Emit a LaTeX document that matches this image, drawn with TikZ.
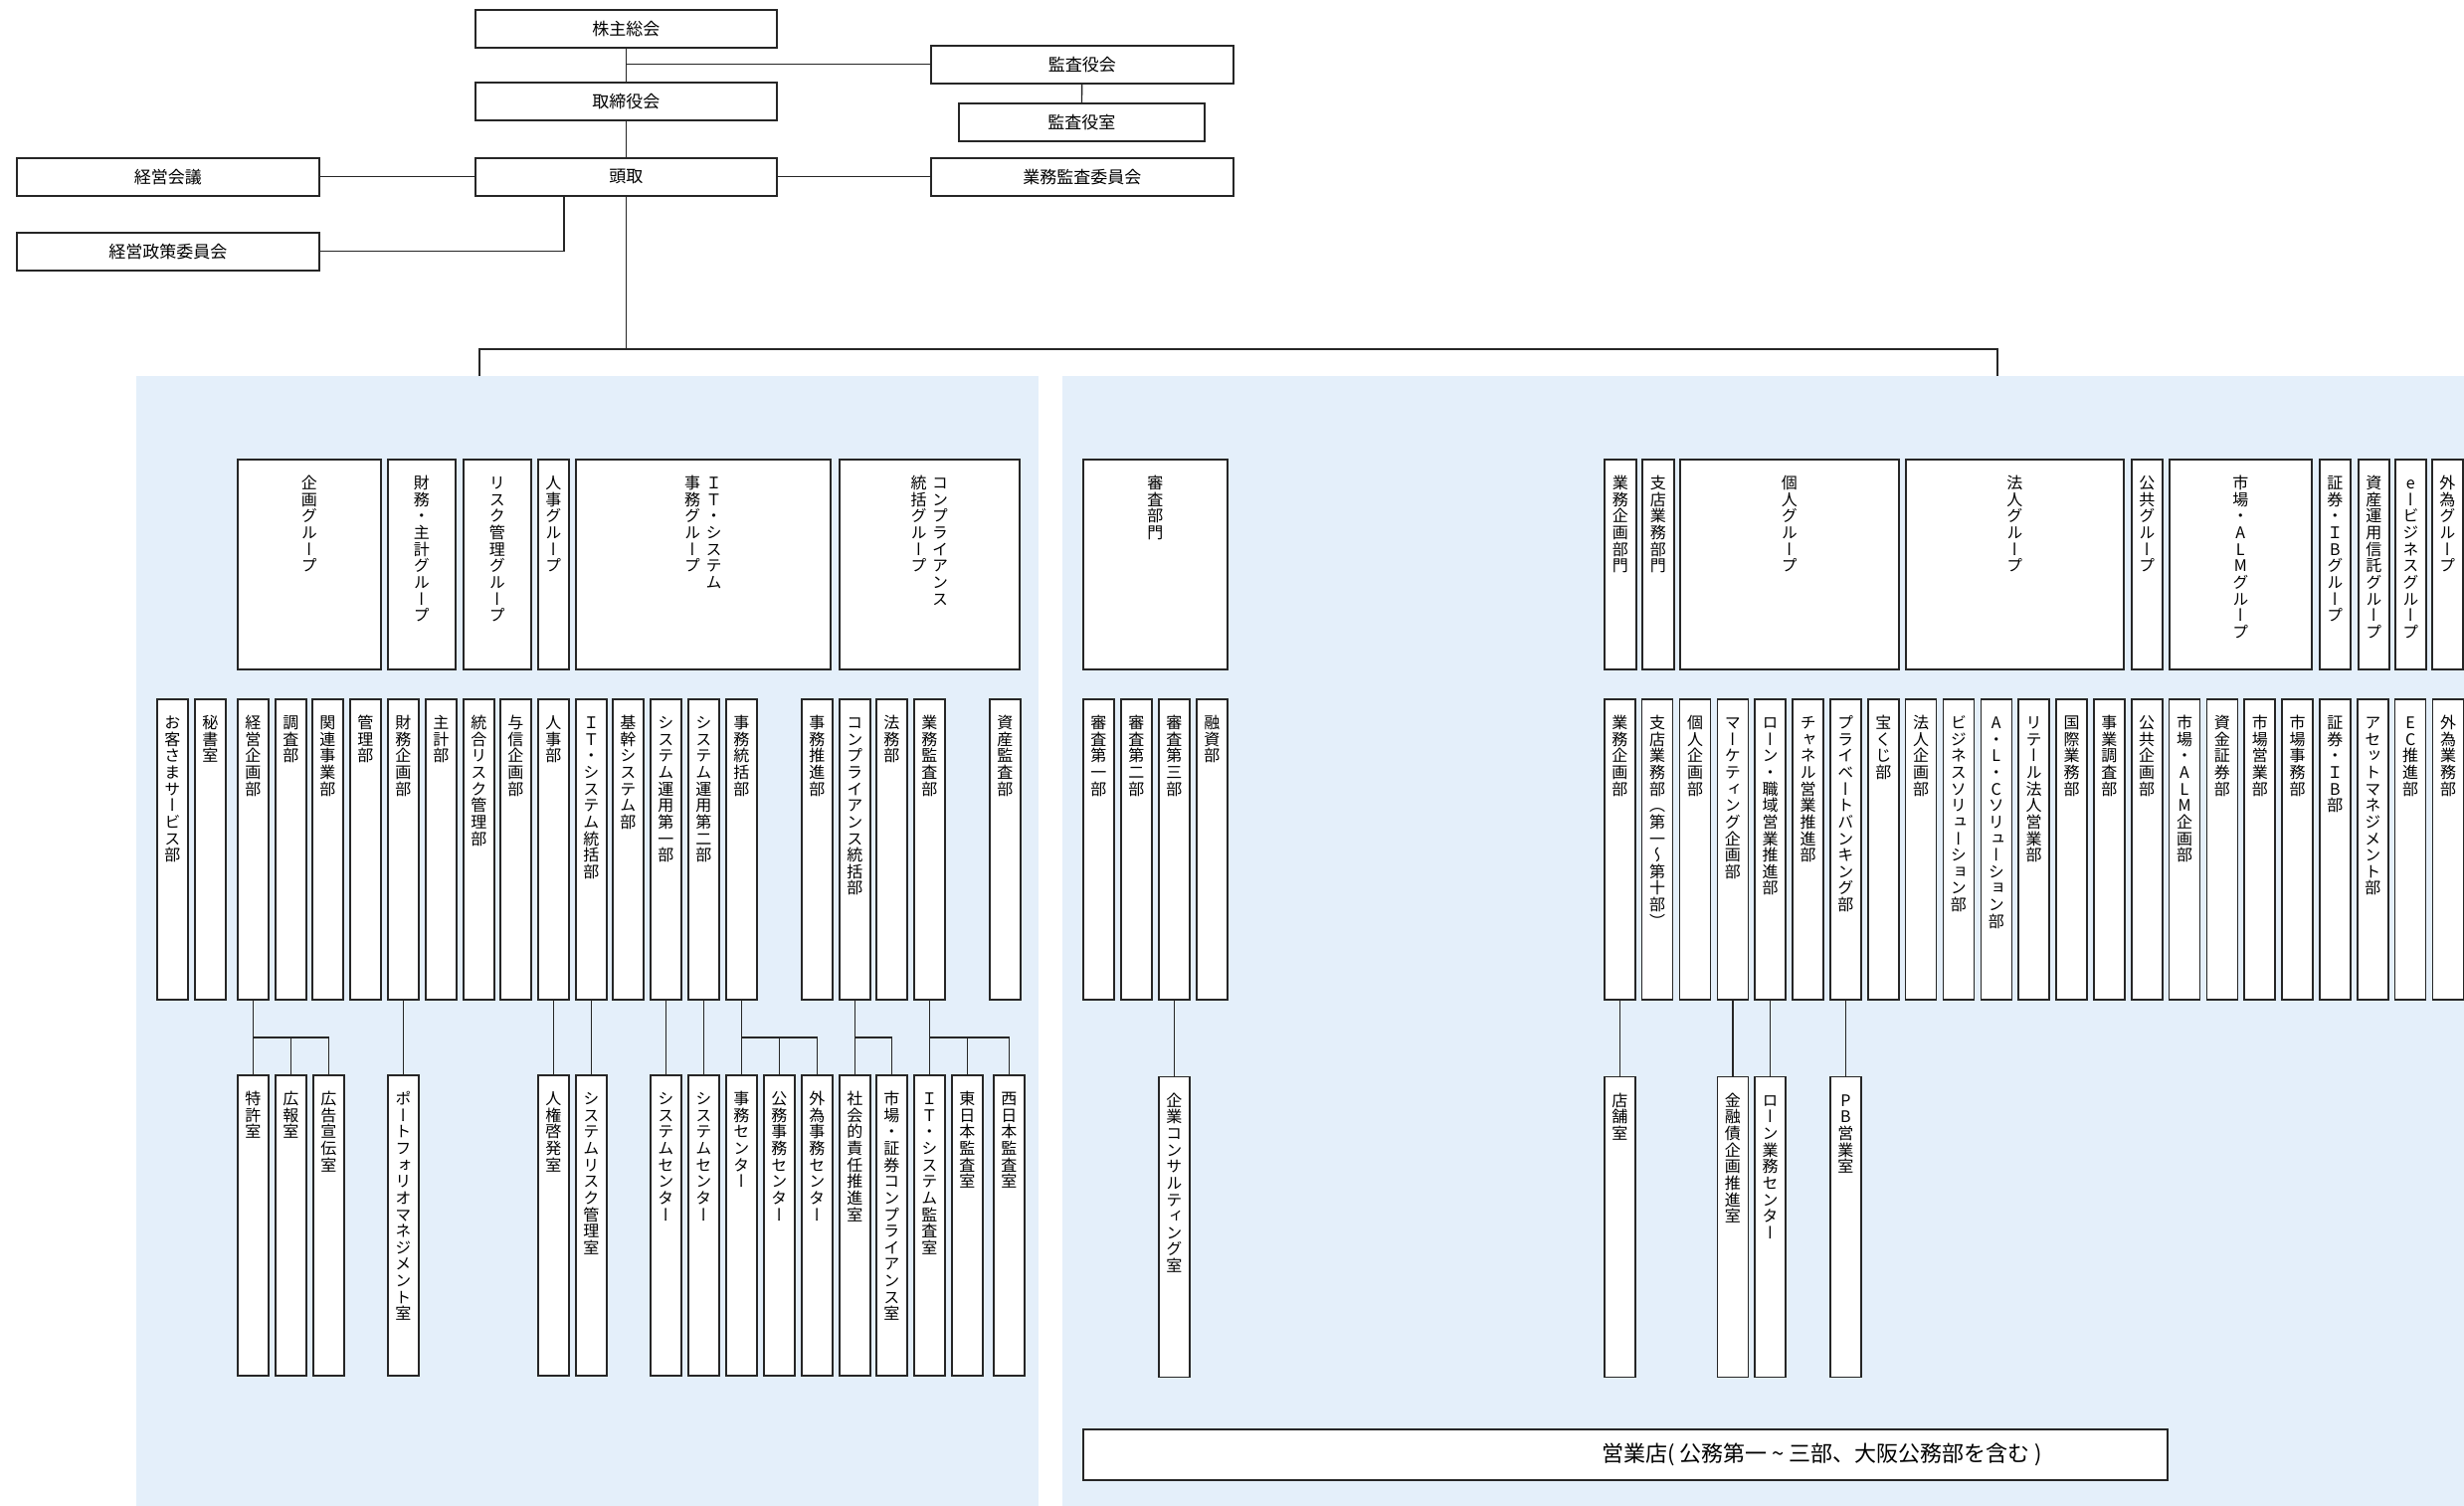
\documentclass[tikz,border=0pt]{standalone}
\usepackage{fontspec}
\newfontfamily\jp{Noto Sans CJK JP}
\newfontfamily\jpv[RawFeature=+vert]{Noto Sans CJK JP}
\definecolor{panelblue}{RGB}{228,239,250}

% vertical text: one character per line
\newcommand\vtend{}
\def\vtloop#1{\ifx#1\vtend\else\hbox to 1em{\vrule height .86em depth .18em width 0pt\hss#1\hss}\expandafter\vtloop\fi}
\newcommand\vt[1]{\vtop{\offinterlineskip\vtloop#1\vtend}}
% box body of fixed height, text at the top
\newcommand\vbx[2]{\vbox to #1{\vskip 8pt\hbox{#2}\vss}}

\begin{document}
\begin{tikzpicture}
[
    x=0.5pt, y=-0.5pt,
    topbox/.style={draw=black!85, line width=0.8pt, fill=white, anchor=north west, inner sep=0pt,
      minimum width=151.5pt, minimum height=19pt, font=\jp\fontsize{8.5}{10}\selectfont},
    grp/.style={draw=black!85, line width=0.8pt, fill=white, anchor=north west, inner sep=0pt,
      minimum width=15.5pt, font=\jpv\fontsize{8}{10}\selectfont},
    dept/.style={grp},
    link/.style={draw=black!85, line width=0.7pt}
  ]

  \useasboundingbox[fill=white] (0,0) rectangle (2477,1514);
  \fill[panelblue] (137,378) rectangle (1044,1514);
  \fill[panelblue] (1068,378) rectangle (2477,1514);

  % top management
  \node[topbox] (soukai) at (477,9) {株主総会};
  \node[topbox, minimum width=152pt] (kansayaku) at (935,45) {監査役会};
  \node[topbox] (torishimari) at (477,82) {取締役会};
  \node[topbox, minimum width=123.5pt] (kansashitsu) at (963,103) {監査役室};
  \node[topbox] (toudori) at (477,158) {頭取};
  \node[topbox, minimum width=152pt] (keieikaigi) at (16,158) {経営会議};
  \node[topbox, minimum width=152pt] (gyoumuiin) at (935,158) {業務監査委員会};
  \node[topbox, minimum width=152pt] (seisaku) at (16,233) {経営政策委員会};

  \coordinate (split) at (630,351);
  \coordinate (leftpanel) at (482,378);
  \coordinate (rightpanel) at (2008,378);

  \draw[link] (soukai) -- (torishimari);
  \draw[link] (soukai.south |- kansayaku.west) -- (kansayaku.west);
  \draw[link] (kansayaku) -- (kansashitsu);
  \draw[link] (torishimari) -- (toudori);
  \draw[link] (toudori.west) -- (keieikaigi.east |- toudori.west);
  \draw[link] (toudori.east) -- (gyoumuiin.west |- toudori.east);
  \draw[link] ([xshift=-31.25pt]toudori.south) |- (seisaku.east);
  \draw[link] (toudori.south) -- (toudori.south |- split);
  \draw[link] (leftpanel) |- (rightpanel |- split) -- (rightpanel);

  % groups
  \node[grp, minimum width=72pt] (g-kikaku) at (238,461) {\vbx{105.5pt}{\vt{企画グループ}}};
  \node[grp, minimum width=34pt] (g-zaimu) at (389,461) {\vbx{105.5pt}{\vt{財務・主計グループ}}};
  \node[grp, minimum width=34pt] (g-risk) at (465,461) {\vbx{105.5pt}{\vt{リスク管理グループ}}};
  \node[grp] (g-jinji) at (540,461) {\vbx{105.5pt}{\vt{人事グループ}}};
  \node[grp, minimum width=128pt] (g-it) at (578,461) {\vbx{105.5pt}{\vt{事務グループ}\kern2.8pt\vt{ＩＴ・システム}}};
  \node[grp, minimum width=90.5pt] (g-compl) at (843,461) {\vbx{105.5pt}{\vt{統括グループ}\kern2.8pt\vt{コンプライアンス}}};
  \node[grp, minimum width=72.5pt] (g-shinsa) at (1088,461) {\vbx{105.5pt}{\vt{審査部門}}};
  \node[grp, minimum width=16pt] (g-gkikaku) at (1612,461) {\vbx{105.5pt}{\vt{業務企画部門}}};
  \node[grp, minimum width=16pt] (g-shiten) at (1650,461) {\vbx{105.5pt}{\vt{支店業務部門}}};
  \node[grp, minimum width=110pt] (g-kojin) at (1688,461) {\vbx{105.5pt}{\vt{個人グループ}}};
  \node[grp, minimum width=109.5pt] (g-houjin) at (1915,461) {\vbx{105.5pt}{\vt{法人グループ}}};
  \node[grp] (g-koukyou) at (2142,461) {\vbx{105.5pt}{\vt{公共グループ}}};
  \node[grp, minimum width=71.5pt] (g-shijou) at (2180,461) {\vbx{105.5pt}{\vt{市場・ALMグループ}}};
  \node[grp] (g-shoken) at (2331,461) {\vbx{105.5pt}{\vt{証券・ＩBグループ}}};
  \node[grp] (g-shisan) at (2370,461) {\vbx{105.5pt}{\vt{資産運用信託グループ}}};
  \node[grp] (g-ebiz) at (2407,461) {\vbx{105.5pt}{\vt{eービジネスグループ}}};
  \node[grp] (g-gaitame) at (2444,461) {\vbx{105.5pt}{\vt{外為グループ}}};

  % departments, left
  \node[dept] (okyaku) at (157,702) {\vbx{151pt}{\vt{お客さまサービス部}}};
  \node[dept] (hisho) at (195,702) {\vbx{151pt}{\vt{秘書室}}};
  \node[dept] (keiei) at (238,702) {\vbx{151pt}{\vt{経営企画部}}};
  \node[dept] (chousa) at (276,702) {\vbx{151pt}{\vt{調査部}}};
  \node[dept] (kanren) at (313,702) {\vbx{151pt}{\vt{関連事業部}}};
  \node[dept] (kanri) at (351,702) {\vbx{151pt}{\vt{管理部}}};
  \node[dept] (zaimu) at (389,702) {\vbx{151pt}{\vt{財務企画部}}};
  \node[dept] (shukei) at (427,702) {\vbx{151pt}{\vt{主計部}}};
  \node[dept] (tougou) at (465,702) {\vbx{151pt}{\vt{統合リスク管理部}}};
  \node[dept] (yoshin) at (502,702) {\vbx{151pt}{\vt{与信企画部}}};
  \node[dept] (jinji) at (540,702) {\vbx{151pt}{\vt{人事部}}};
  \node[dept] (itsys) at (578,702) {\vbx{151pt}{\vt{ＩＴ・システム統括部}}};
  \node[dept] (kikan) at (615,702) {\vbx{151pt}{\vt{基幹システム部}}};
  \node[dept] (unyou1) at (653,702) {\vbx{151pt}{\vt{システム運用第一部}}};
  \node[dept] (unyou2) at (691,702) {\vbx{151pt}{\vt{システム運用第二部}}};
  \node[dept] (jimu) at (729,702) {\vbx{151pt}{\vt{事務統括部}}};
  \node[dept] (jimusuishin) at (805,702) {\vbx{151pt}{\vt{事務推進部}}};
  \node[dept] (compl) at (843,702) {\vbx{151pt}{\vt{コンプライアンス統括部}}};
  \node[dept] (houmu) at (880,702) {\vbx{151pt}{\vt{法務部}}};
  \node[dept] (gkansa) at (918,702) {\vbx{151pt}{\vt{業務監査部}}};
  \node[dept] (shisan) at (994,702) {\vbx{151pt}{\vt{資産監査部}}};

  % departments, right
  \node[dept] (shinsa1) at (1088,702) {\vbx{151pt}{\vt{審査第一部}}};
  \node[dept] (shinsa2) at (1126,702) {\vbx{151pt}{\vt{審査第二部}}};
  \node[dept] (shinsa3) at (1164,702) {\vbx{151pt}{\vt{審査第三部}}};
  \node[dept] (yuushi) at (1202,702) {\vbx{151pt}{\vt{融資部}}};
  \foreach \n/\lbl [count=\i from 0] in {gkikaku/業務企画部, shiten/支店業務部（第一～第十部）,
      kojinkikaku/個人企画部, marketing/マーケティング企画部, loan/ローン・職域営業推進部,
      channel/チャネル営業推進部, pb/プライベートバンキング部, takarakuji/宝くじ部,
      houjinkikaku/法人企画部, bizsol/ビジネスソリューション部, alc/A・L・Cソリューション部,
      retail/リテール法人営業部, kokusai/国際業務部, jigyou/事業調査部, koukyou/公共企画部,
      almkikaku/市場・ALM企画部, shikin/資金証券部, shijoueigyou/市場営業部,
      shijoujimu/市場事務部, shoken/証券・ＩB部, asset/アセットマネジメント部,
      ec/EC推進部, gaitame/外為業務部}
    \node[dept] (\n) at (1612+37.85*\i,702) {\vbx{151pt}{\expandafter\vt\expandafter{\lbl}}};

  % offices
  \coordinate (bus) at (0,1043);
  \node[dept] (tokkyo) at (238,1080) {\vbx{151pt}{\vt{特許室}}};
  \node[dept] (kouhou) at (276,1080) {\vbx{151pt}{\vt{広報室}}};
  \node[dept] (koukoku) at (314,1080) {\vbx{151pt}{\vt{広告宣伝室}}};
  \node[dept] (portfolio) at (389,1080) {\vbx{151pt}{\vt{ポートフォリオマネジメント室}}};
  \node[dept] (jinken) at (540,1080) {\vbx{151pt}{\vt{人権啓発室}}};
  \node[dept] (sysrisk) at (578,1080) {\vbx{151pt}{\vt{システムリスク管理室}}};
  \node[dept] (center1) at (653,1080) {\vbx{151pt}{\vt{システムセンター}}};
  \node[dept] (center2) at (691,1080) {\vbx{151pt}{\vt{システムセンター}}};
  \node[dept] (jimucenter) at (729,1080) {\vbx{151pt}{\vt{事務センター}}};
  \node[dept] (koumucenter) at (767,1080) {\vbx{151pt}{\vt{公務事務センター}}};
  \node[dept] (gaitamecenter) at (805,1080) {\vbx{151pt}{\vt{外為事務センター}}};
  \node[dept] (shakai) at (843,1080) {\vbx{151pt}{\vt{社会的責任推進室}}};
  \node[dept] (shijoucompl) at (880,1080) {\vbx{151pt}{\vt{市場・証券コンプライアンス室}}};
  \node[dept] (itkansa) at (918,1080) {\vbx{151pt}{\vt{ＩＴ・システム監査室}}};
  \node[dept] (higashi) at (956,1080) {\vbx{151pt}{\vt{東日本監査室}}};
  \node[dept] (nishi) at (998,1080) {\vbx{151pt}{\vt{西日本監査室}}};
  \node[dept] (consul) at ([yshift=-38pt]shinsa3.south west) {\vbx{151pt}{\vt{企業コンサルティング室}}};
  \node[dept] (tenpo) at ([yshift=-38pt]gkikaku.south west) {\vbx{151pt}{\vt{店舗室}}};
  \node[dept] (kinyuusai) at ([yshift=-38pt]marketing.south west) {\vbx{151pt}{\vt{金融債企画推進室}}};
  \node[dept] (loancenter) at ([yshift=-38pt]loan.south west) {\vbx{151pt}{\vt{ローン業務センター}}};
  \node[dept] (pbroom) at ([yshift=-38pt]pb.south west) {\vbx{151pt}{\vt{PB営業室}}};

  \draw[link] (keiei.south) |- (koukoku.north |- bus) -- (koukoku.north)
    (tokkyo.north |- bus) -- (tokkyo.north)
    (kouhou.north |- bus) -- (kouhou.north);
  \draw[link] (zaimu) -- (portfolio);
  \draw[link] (jinji) -- (jinken);
  \draw[link] (itsys) -- (sysrisk);
  \draw[link] (unyou1) -- (center1);
  \draw[link] (unyou2) -- (center2);
  \draw[link] (jimu.south) |- (gaitamecenter.north |- bus) -- (gaitamecenter.north)
    (jimucenter.north |- bus) -- (jimucenter.north)
    (koumucenter.north |- bus) -- (koumucenter.north);
  \draw[link] (compl.south) |- (shijoucompl.north |- bus) -- (shijoucompl.north)
    (shakai.north |- bus) -- (shakai.north);
  \draw[link] (gkansa.south) |- (nishi.north |- bus) -- (nishi.north)
    (itkansa.north |- bus) -- (itkansa.north)
    (higashi.north |- bus) -- (higashi.north);
  \draw[link] (shinsa3) -- (consul);
  \draw[link] (gkikaku) -- (tenpo);
  \draw[link] (marketing) -- (kinyuusai);
  \draw[link] (loan) -- (loancenter);
  \draw[link] (pb) -- (pbroom);

  % branches
  \node[topbox, minimum width=545pt, minimum height=25.5pt] (eigyouten) at (1088,1436) {};
  \node[font=\jp\fontsize{11}{13}\selectfont] (eigyoutext) at ([xshift=99pt]eigyouten.center) {営業店( 公務第一 \textasciitilde{} 三部、大阪公務部を含む )};
\end{tikzpicture}
\end{document}
